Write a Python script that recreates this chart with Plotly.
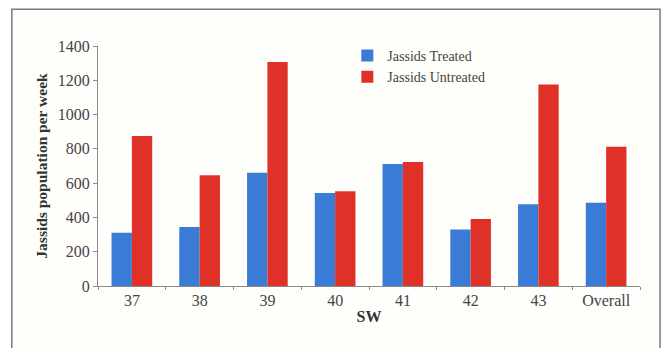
import plotly.graph_objects as go

weeks = ["37", "38", "39", "40", "41", "42", "43", "Overall"]
treated = [311, 344, 661, 543, 712, 329, 477, 486]
untreated = [875, 646, 1307, 552, 723, 391, 1175, 813]

serif = "Liberation Serif, Times New Roman, serif"

fig = go.Figure()
fig.add_trace(go.Bar(x=weeks, y=treated, name="Jassids Treated",
                     marker=dict(color="#3a7bd5", line=dict(width=0))))
fig.add_trace(go.Bar(x=weeks, y=untreated, name="Jassids Untreated",
                     marker=dict(color="#e03128", line=dict(width=0))))

# outer frame around the chart
fig.add_shape(type="rect", xref="paper", yref="paper",
              x0=-0.159, x1=1.037, y0=-0.30, y1=1.153,
              line=dict(color="#7a7a7a", width=1.5),
              fillcolor="#fefefa", layer="below")

fig.update_layout(
    width=662, height=348,
    margin=dict(l=98, r=22, t=46, b=62),
    paper_bgcolor="white",
    plot_bgcolor="rgba(0,0,0,0)",
    barmode="group",
    bargap=0.40,
    bargroupgap=0,
    font=dict(family=serif, size=16, color="#444444"),
    showlegend=True,
    legend=dict(x=0.46, y=1.025, xanchor="left", yanchor="top",
                bgcolor="rgba(0,0,0,0)",
                font=dict(family=serif, size=14, color="#444444"),
                itemwidth=30, tracegroupgap=0),
    xaxis=dict(
        title=dict(text="<b>SW</b>", font=dict(family=serif, size=16, color="#333333"),
                   standoff=2),
        showline=True, linecolor="#8a8a8a", linewidth=1,
        ticks="outside", ticklen=3, tickcolor="#8a8a8a",
        tickson="boundaries", showgrid=False,
        tickfont=dict(family=serif, size=16, color="#444444"),
    ),
    yaxis=dict(
        title=dict(text="<b>Jassids population per week</b>",
                   font=dict(family=serif, size=15.5, color="#333333"), standoff=6),
        range=[0, 1400], dtick=200,
        showline=True, linecolor="#8a8a8a", linewidth=1,
        ticks="outside", ticklen=4, tickcolor="#8a8a8a",
        showgrid=False, zeroline=False,
        tickfont=dict(family=serif, size=16, color="#444444"),
    ),
)

fig.write_html("out.html")
